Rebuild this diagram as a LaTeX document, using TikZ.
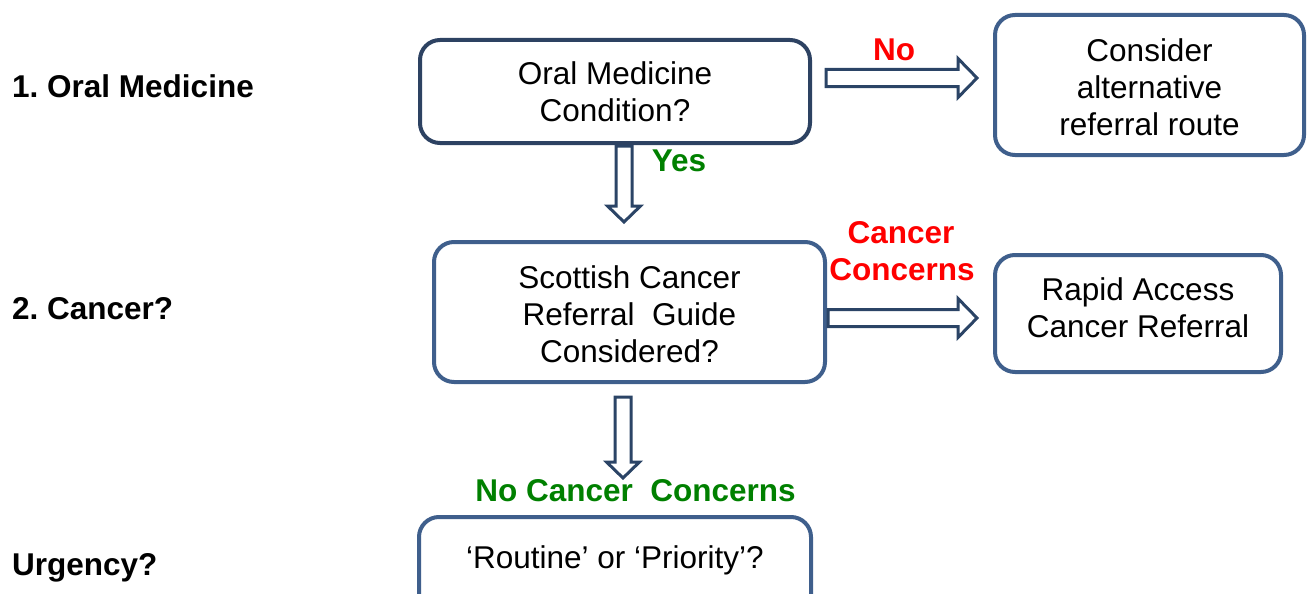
\documentclass[tikz,border=0pt]{standalone}
\usepackage{fontspec}
\setmainfont{Liberation Sans}
\usetikzlibrary{calc}
\frenchspacing
\definecolor{navyA}{HTML}{2D4262}
\definecolor{steel}{HTML}{3F5F8C}
\definecolor{arrowc}{HTML}{2B4466}
\definecolor{gr}{HTML}{008000}
\definecolor{rd}{HTML}{FF0000}
\tikzset{
  box/.style={draw=steel, line width=4pt, rounded corners=20pt, fill=white,
    align=center, inner sep=0pt, font=\fontsize{31.5}{37}\selectfont},
  boxtext/.style={inner sep=0pt, align=center, font=\fontsize{31.5}{37}\selectfont},
  lbl/.style={inner sep=0pt, anchor=base west, font=\fontsize{31.5}{36}\selectfont\bfseries},
  cond/.style={inner sep=0pt, anchor=base, align=center, font=\fontsize{31.5}{37}\selectfont\bfseries},
  blockarrow/.style={draw=arrowc, line width=3pt, fill=white, line join=miter}
}
% horizontal block arrow: #1 tail coordinate, #2 tip coordinate
\newcommand\harrowblk[2]{%
  \draw[blockarrow] let \p1=(#1), \p2=(#2) in
    (\x1,\y1-8.5pt) -- (\x2-19pt,\y1-8.5pt) -- (\x2-19pt,\y1-19.5pt) -- (\x2,\y1)
    -- (\x2-19pt,\y1+19.5pt) -- (\x2-19pt,\y1+8.5pt) -- (\x1,\y1+8.5pt) -- cycle;}
% vertical block arrow (downwards): #1 tail, #2 tip
\newcommand\varrowblk[2]{%
  \draw[blockarrow] let \p1=(#1), \p2=(#2) in
    (\x1-8pt,\y1) -- (\x1-8pt,\y2+16pt) -- (\x1-16.5pt,\y2+16pt) -- (\x1,\y2)
    -- (\x1+16.5pt,\y2+16pt) -- (\x1+8pt,\y2+16pt) -- (\x1+8pt,\y1) -- cycle;}
\begin{document}
\begin{tikzpicture}[x=1pt,y=-1pt]
\useasboundingbox (0,0) rectangle (1314,594);
\clip (0,0) rectangle (1314,594);

% left labels
\node[lbl] (l1) at (12,97.5) {1. Oral Medicine};
\node[lbl] (l2) at (12,319) {2. Cancer?};
\node[lbl] (l3) at (12,575) {Urgency?};

% boxes
\node[box, draw=navyA, minimum width=390pt, minimum height=103pt] (a) at (615,91.5)
  {Oral Medicine\\Condition?};
\node[box, minimum width=309pt, minimum height=140pt] (b) at (1149.5,85) {};
\node[boxtext] (bt) at (1149.5,87) {Consider\\alternative\\referral route};
\node[box, minimum width=391pt, minimum height=140pt] (c) at (629.5,312) {};
\node[boxtext] (ct) at (629.5,314) {Scottish Cancer\\Referral\ \ Guide\\Considered?};
\node[box, minimum width=286pt, minimum height=117pt] (d) at (1138,313.5) {};
\node[boxtext] (dt) at (1138,308) {Rapid Access\\Cancer Referral};
\node[box, minimum width=392pt, minimum height=100pt] (e) at (615,567) {};
\node[inner sep=0pt, anchor=base, font=\fontsize{31.5}{37}\selectfont] (et) at (615,568)
  {‘Routine’ or ‘Priority’?};

% arrow end points
\coordinate (noT) at (826,78);
\coordinate (noH) at (977,78);
\coordinate (yesT) at (624,146);
\coordinate (yesH) at (624,222);
\coordinate (ccT) at (828,318);
\coordinate (ccH) at (977,318);
\coordinate (ncT) at (623,397);
\coordinate (ncH) at (623,478);

\harrowblk{noT}{noH}
\varrowblk{yesT}{yesH}
\harrowblk{ccT}{ccH}
\varrowblk{ncT}{ncH}

% condition labels
\node[cond, text=rd] (no) at (894,61) {No};
\node[cond, text=gr] (yes) at (679,171) {Yes};
\node[cond, text=rd] (cc1) at (901,243) {Cancer};
\node[cond, text=rd] (cc2) at (902,280) {Concerns};
\node[cond, text=gr] (nc) at (635.5,501) {No Cancer\ \ Concerns};
\end{tikzpicture}
\end{document}
